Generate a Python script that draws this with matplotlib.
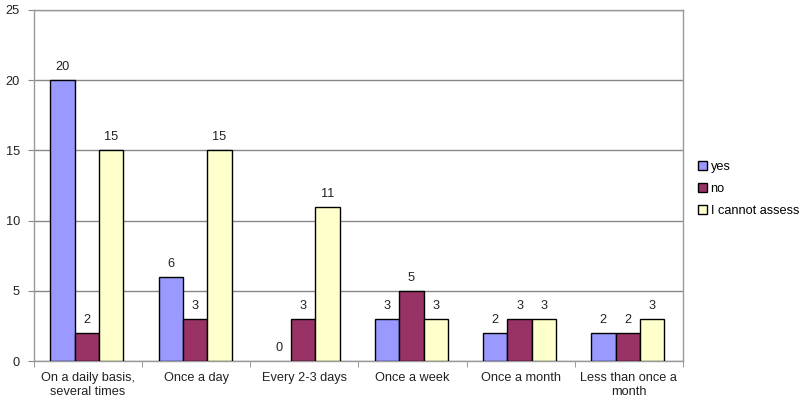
import numpy as np
import matplotlib.pyplot as plt

plt.rcParams['font.family'] = ['Liberation Sans', 'DejaVu Sans']

categories = ['On a daily basis,\nseveral times', 'Once a day', 'Every 2-3 days',
              'Once a week', 'Once a month', 'Less than once a\nmonth']
yes = [20, 6, 0, 3, 2, 2]
no = [2, 3, 3, 5, 3, 2]
cannot = [15, 15, 11, 3, 3, 3]

series = [('yes', yes, '#9999FF'), ('no', no, '#993366'), ('I cannot assess', cannot, '#FFFFCC')]

fig = plt.figure(figsize=(8.02, 4.03), dpi=100)
ax = fig.add_axes([34 / 802, 1 - 361 / 403, (683 - 34) / 802, (361 - 10) / 403])

x = np.arange(len(categories))
w = 0.225
fs = 9.2
for i, (name, vals, col) in enumerate(series):
    pos = x + (i - 1.05) * w
    lw = [1.0 if v > 0 else 0 for v in vals]
    ax.bar(pos, vals, w, color=col, edgecolor='black', linewidth=lw, label=name, zorder=3)
    for p, v in zip(pos, vals):
        ax.annotate(str(v), (p, v), xytext=(0, 5), textcoords='offset points',
                    ha='center', va='bottom', fontsize=fs, color='#222222')

ax.set_xlim(-0.5, len(categories) - 0.5)
ax.set_ylim(0, 25)
ax.set_yticks([0, 5, 10, 15, 20, 25])
ax.yaxis.grid(True, color='#888888', linewidth=1.0, zorder=0)
ax.set_xticks(x)
ax.set_xticklabels(categories, fontsize=fs, color='#222222')
ax.set_xticks(np.arange(len(categories) + 1) - 0.5, minor=True)
ax.tick_params(axis='x', which='major', length=0, pad=8)
ax.tick_params(axis='x', which='minor', length=4, color='#888888')
ax.tick_params(axis='y', length=4, color='#888888', labelsize=fs, labelcolor='#222222', pad=6)
for s in ax.spines.values():
    s.set_color('#999999')
    s.set_linewidth(1.0)

ax.legend(loc='center left', bbox_to_anchor=(1.005, 0.49), frameon=False, fontsize=fs,
          handlelength=0.7, handleheight=0.7, handletextpad=0.3, labelspacing=0.75)

fig.savefig('out.png', dpi=100)
